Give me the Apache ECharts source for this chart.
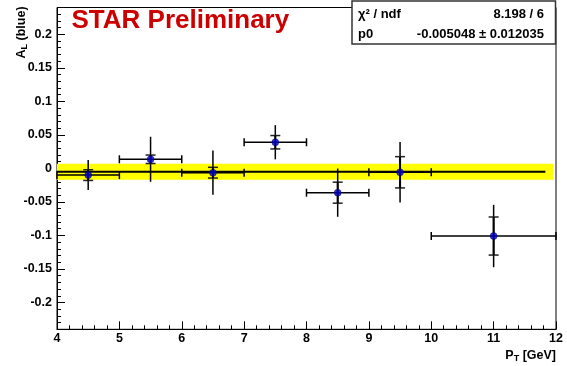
<!DOCTYPE html>
<html>
<head>
<meta charset="utf-8">
<script src="https://cdn.jsdelivr.net/npm/echarts@6/dist/echarts.min.js"></script>
<style>
html,body{margin:0;padding:0;background:#fff;}
#chart{width:567px;height:366px;}
</style>
</head>
<body>
<div id="chart"></div>
<script>
// ---- data ----
const ptCenter = [4.5, 5.5, 6.5, 7.5, 8.5, 9.5, 11];
const ptLow    = [4, 5, 6, 7, 8, 9, 10];
const ptHigh   = [5, 6, 7, 8, 9, 10, 12];
const asymmetry = [-0.0100, 0.0136, -0.0064, 0.0390, -0.0362, -0.0058, -0.1009];
const statErr   = [0.0224, 0.0336, 0.0330, 0.0255, 0.0360, 0.0450, 0.0465];
const sysErr    = [0.0080, 0.0063, 0.0080, 0.0100, 0.0157, 0.0233, 0.0284];

const fitP0 = -0.005048;
const fitP0Err = 0.012035;
const fitRange = [4, 11.83];
const bandRange = [4, 11.96];
const chi2Text = '8.198 / 6';
const p0Text = '-0.005048 \u00b1 0.012035';

const xTickValues = [4, 5, 6, 7, 8, 9, 10, 11, 12];
const yTickValues = [-0.2, -0.15, -0.1, -0.05, 0, 0.05, 0.1, 0.15, 0.2];

// ---- chart ----
const FONT = '"Liberation Sans", Arial, Helvetica, sans-serif';
const chart = echarts.init(document.getElementById('chart'), null, {renderer: 'canvas'});

const pointData = ptCenter.map((x, i) => [x, asymmetry[i], ptLow[i], ptHigh[i], statErr[i], sysErr[i]]);

const option = {
  animation: false,
  backgroundColor: '#ffffff',
  title: {
    text: 'STAR Preliminary',
    left: 71.5, top: 8, padding: 0,
    textStyle: {color: '#cc0000', fontFamily: FONT, fontWeight: 'bold', fontSize: 26}
  },
  grid: {
    left: 57, right: 11, top: 7.5, bottom: 36.7,
    show: true, borderColor: '#000', borderWidth: 1, backgroundColor: 'transparent'
  },
  xAxis: [{
    type: 'value', min: 4, max: 12, interval: 1,
    name: '{a|P}{s|T}{a| [GeV]}',
    nameLocation: 'end', nameGap: 0,
    nameTextStyle: {
      align: 'right', verticalAlign: 'top', padding: [19, 0, 0, 0],
      rich: {
        a: {fontFamily: FONT, fontWeight: 'bold', fontSize: 12.5, color: '#000'},
        s: {fontFamily: FONT, fontWeight: 'bold', fontSize: 9, color: '#000', verticalAlign: 'bottom', padding: [6, 0, 0, 0]}
      }
    },
    axisLine: {show: true, onZero: false, lineStyle: {color: '#000', width: 1}},
    axisTick: {show: true, inside: true, length: 8, lineStyle: {color: '#000', width: 1}},
    minorTick: {show: true, splitNumber: 5, length: 4, lineStyle: {color: '#000', width: 1}},
    axisLabel: {
      show: true, margin: 3, color: '#000', fontFamily: FONT, fontWeight: 'bold', fontSize: 12.5,
      customValues: xTickValues
    },
    splitLine: {show: false}
  }],
  yAxis: [{
    // minor ticks every 0.01
    type: 'value', min: -0.24, max: 0.24, interval: 0.01,
    axisLine: {show: true, onZero: false, lineStyle: {color: '#000', width: 1}},
    axisTick: {show: true, inside: true, length: 4, lineStyle: {color: '#000', width: 1}},
    axisLabel: {show: false},
    splitLine: {show: false}
  }, {
    // major ticks and labels
    type: 'value', min: -0.24, max: 0.24, position: 'left', offset: 0,
    name: '{a|A}{s|L}{a| (blue)}',
    nameLocation: 'end', nameRotate: 90, nameGap: 0,
    nameTextStyle: {
      align: 'right', verticalAlign: 'bottom', padding: [0, 0, 28, 0],
      rich: {
        a: {fontFamily: FONT, fontWeight: 'bold', fontSize: 12.5, color: '#000'},
        s: {fontFamily: FONT, fontWeight: 'bold', fontSize: 9, color: '#000', verticalAlign: 'bottom', padding: [6, 0, 0, 0]}
      }
    },
    axisLine: {show: false, onZero: false},
    axisTick: {show: true, inside: true, length: 8, customValues: yTickValues, lineStyle: {color: '#000', width: 1}},
    axisLabel: {
      show: true, margin: 5, color: '#000', fontFamily: FONT, fontWeight: 'bold', fontSize: 12.5,
      customValues: yTickValues,
      formatter: v => String(Math.round(v * 100) / 100)
    },
    splitLine: {show: false}
  }],
  series: [{
    // fit error band
    type: 'custom', name: 'band', z: 1, silent: true,
    data: [[bandRange[0], bandRange[1], fitP0 - fitP0Err, fitP0 + fitP0Err]],
    encode: {x: [0, 1], y: [2, 3]},
    renderItem: (params, api) => {
      const p1 = api.coord([api.value(0), api.value(3)]);
      const p2 = api.coord([api.value(1), api.value(2)]);
      return {type: 'rect', shape: {x: p1[0], y: p1[1], width: p2[0] - p1[0], height: p2[1] - p1[1]},
              style: {fill: '#ffff00'}};
    }
  }, {
    // constant fit
    type: 'line', name: 'fit', z: 2, showSymbol: false, silent: true,
    data: [[fitRange[0], fitP0], [fitRange[1], fitP0]],
    lineStyle: {color: '#000', width: 2}
  }, {
    // statistical errors with x-range bars
    type: 'custom', name: 'stat', z: 3, silent: true,
    data: pointData,
    encode: {x: [0, 2, 3], y: 1},
    renderItem: (params, api) => {
      const x = api.value(0), y = api.value(1), xl = api.value(2), xh = api.value(3), e = api.value(4);
      const top = api.coord([x, y + e]);
      const bot = api.coord([x, y - e]);
      const l = api.coord([xl, y]);
      const r = api.coord([xh, y]);
      const st = {stroke: '#000', lineWidth: 1.5};
      return {type: 'group', children: [
        {type: 'line', shape: {x1: top[0], y1: top[1], x2: bot[0], y2: bot[1]}, style: st},
        {type: 'line', shape: {x1: l[0], y1: l[1], x2: r[0], y2: r[1]}, style: st},
        {type: 'line', shape: {x1: l[0], y1: l[1] - 4, x2: l[0], y2: l[1] + 4}, style: st},
        {type: 'line', shape: {x1: r[0], y1: r[1] - 4, x2: r[0], y2: r[1] + 4}, style: st}
      ]};
    }
  }, {
    // systematic error ticks
    type: 'custom', name: 'sys', z: 4, silent: true,
    data: pointData,
    encode: {x: 0, y: 1},
    renderItem: (params, api) => {
      const x = api.value(0), y = api.value(1), s = api.value(5);
      const top = api.coord([x, y + s]);
      const bot = api.coord([x, y - s]);
      const st = {stroke: '#222', lineWidth: 1.5};
      return {type: 'group', children: [
        {type: 'line', shape: {x1: top[0] - 5, y1: top[1], x2: top[0] + 5, y2: top[1]}, style: st},
        {type: 'line', shape: {x1: bot[0] - 5, y1: bot[1], x2: bot[0] + 5, y2: bot[1]}, style: st},
        {type: 'line', shape: {x1: top[0], y1: top[1], x2: bot[0], y2: bot[1]}, style: {stroke: '#000', lineWidth: 2}}
      ]};
    }
  }, {
    type: 'scatter', name: 'A_L', z: 5, silent: true,
    data: ptCenter.map((x, i) => [x, asymmetry[i]]),
    symbol: 'circle', symbolSize: 7,
    itemStyle: {color: '#0000c8', borderColor: '#000050', borderWidth: 0.5}
  }],
  graphic: [{
    type: 'group', x: 352, y: 1, z: 100,
    children: [{
      type: 'rect', shape: {x: 0, y: 0, width: 203.5, height: 43},
      style: {fill: '#fff', stroke: '#333', lineWidth: 1.5}
    }, {
      type: 'text', x: 6, y: 13,
      style: {text: '\u03c7\u00b2 / ndf', font: 'bold 13px ' + FONT, fill: '#000', textAlign: 'left', textVerticalAlign: 'middle'}
    }, {
      type: 'text', x: 192, y: 13,
      style: {text: chi2Text, font: 'bold 13px ' + FONT, fill: '#000', textAlign: 'right', textVerticalAlign: 'middle'}
    }, {
      type: 'text', x: 6, y: 33,
      style: {text: 'p0', font: 'bold 13px ' + FONT, fill: '#000', textAlign: 'left', textVerticalAlign: 'middle'}
    }, {
      type: 'text', x: 192, y: 33,
      style: {text: p0Text, font: 'bold 13px ' + FONT, fill: '#000', textAlign: 'right', textVerticalAlign: 'middle'}
    }]
  }]
};
chart.setOption(option);
</script>
</body>
</html>
